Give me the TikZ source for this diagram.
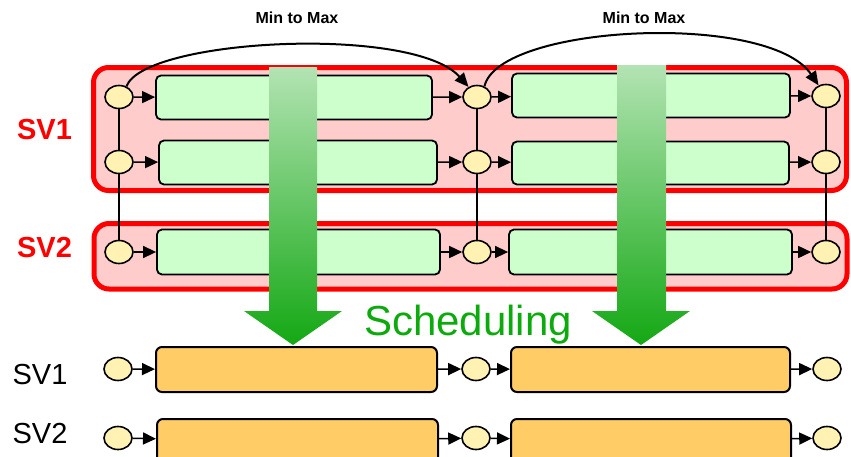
\documentclass[tikz,border=0pt]{standalone}
\usepackage{fontspec}
\setmainfont{Liberation Sans}
\usetikzlibrary{shapes.geometric,arrows.meta}
\definecolor{circfill}{HTML}{FFF2B3}
\definecolor{greenbox}{HTML}{CCFFCC}
\definecolor{orangebox}{HTML}{FFCC66}
\definecolor{redfill}{HTML}{FFCCCC}
\definecolor{schedgreen}{HTML}{0DAA0D}
\definecolor{arrowtop}{HTML}{B3E3B3}
\definecolor{arrowbot}{HTML}{14A814}
\tikzset{
  circ/.style={ellipse,draw=black,line width=1.6pt,fill=circfill,minimum width=28pt,minimum height=23pt,inner sep=0pt},
  gbox/.style={rectangle,rounded corners=5pt,draw=black,line width=1.8pt,fill=greenbox,inner sep=0pt},
  obox/.style={rectangle,rounded corners=6pt,draw=black,line width=2pt,fill=orangebox,inner sep=0pt},
  redgroup/.style={draw=red,fill=redfill,line width=5pt,rounded corners=15pt},
  conn/.style={line width=1.5pt,-{Triangle[length=13pt,width=12pt]}},
  vline/.style={line width=1.3pt},
  curve/.style={line width=2pt,-{Triangle[length=14pt,width=12pt]}},
  bigarrow/.style={top color=arrowtop,bottom color=arrowbot},
  lbl/.style={anchor=base,inner sep=0pt,font=\fontsize{29}{29}\selectfont}
}
\begin{document}
\begin{tikzpicture}[x=1pt,y=-1pt]
\useasboundingbox (0,0) rectangle (851,456);
% group boxes
\draw[redgroup] (93.5,67.5) rectangle (846.5,190.5);
\draw[redgroup] (94,223.5) rectangle (847,289);
% labels
\node[lbl,text=red,font=\fontsize{29}{29}\selectfont\bfseries] (lsv1) at (44.5,139) {SV1};
\node[lbl,text=red,font=\fontsize{29}{29}\selectfont\bfseries] (lsv2) at (44.5,257) {SV2};
\node[lbl] (bsv1) at (40,384) {SV1};
\node[lbl] (bsv2) at (40,443) {SV2};
\node[anchor=base,inner sep=0pt,font=\fontsize{16}{16}\selectfont\bfseries] (mm1) at (297,23) {Min to Max};
\node[anchor=base,inner sep=0pt,font=\fontsize{16}{16}\selectfont\bfseries] (mm2) at (644,23) {Min to Max};
\node[anchor=base,inner sep=0pt,text=schedgreen,font=\fontsize{42}{42}\selectfont] (sched) at (468,335) {Scheduling};
% circles upper
\node[circ] (a1) at (119,97) {};
\node[circ] (a2) at (477,97) {};
\node[circ] (a3) at (826,96) {};
\node[circ] (b1) at (119,162) {};
\node[circ] (b2) at (477,162) {};
\node[circ] (b3) at (826,162) {};
\node[circ] (s1) at (119,252) {};
\node[circ] (s2) at (477,252) {};
\node[circ] (s3) at (826,252) {};
% green boxes
\node[gbox,minimum width=276pt,minimum height=44pt] (ga1) at (294,97.5) {};
\node[gbox,minimum width=278pt,minimum height=44pt] (gb1) at (298,162.5) {};
\node[gbox,minimum width=283pt,minimum height=45pt] (gs1) at (298.5,252) {};
\node[gbox,minimum width=278pt,minimum height=44pt] (ga2) at (651,95.5) {};
\node[gbox,minimum width=277pt,minimum height=43pt] (gb2) at (650.5,163) {};
\node[gbox,minimum width=283pt,minimum height=45pt] (gs2) at (650.5,252) {};
% vertical lines
\draw[vline] (a1) -- (b1);
\draw[vline] (b1) -- (s1);
\draw[vline] (a2) -- (b2);
\draw[vline] (b2) -- (s2);
\draw[vline] (a3) -- (b3);
\draw[vline] (b3) -- (s3);
% horizontal connectors upper
\draw[conn] (a1) -- (ga1);
\draw[conn] (ga1) -- (a2);
\draw[conn] (a2) -- (ga2);
\draw[conn] (ga2) -- (a3);
\draw[conn] (b1) -- (gb1);
\draw[conn] (gb1) -- (b2);
\draw[conn] (b2) -- (gb2);
\draw[conn] (gb2) -- (b3);
\draw[conn] (s1) -- (gs1);
\draw[conn] (gs1) -- (s2);
\draw[conn] (s2) -- (gs2);
\draw[conn] (gs2) -- (s3);
% curves
\draw[curve] (a1.55) .. controls +(18,-48) and +(-55,-62) .. (a2.130);
\draw[curve] (a2.55) .. controls +(14,-62) and +(-50,-74) .. (a3.125);
% lower rows
\node[circ] (p1) at (118,369) {};
\node[circ] (p2) at (476,369) {};
\node[circ] (p3) at (827,369) {};
\node[circ] (q1) at (118,438) {};
\node[circ] (q2) at (476,438) {};
\node[circ] (q3) at (827,438) {};
\node[obox,minimum width=281pt,minimum height=45pt] (op1) at (296.5,369.5) {};
\node[obox,minimum width=279pt,minimum height=45pt] (op2) at (650.5,369.5) {};
\node[obox,minimum width=281pt,minimum height=45pt] (oq1) at (297.5,441.5) {};
\node[obox,minimum width=280pt,minimum height=45pt] (oq2) at (651,441.5) {};
\draw[conn] (p1) -- (op1);
\draw[conn] (op1) -- (p2);
\draw[conn] (p2) -- (op2);
\draw[conn] (op2) -- (p3);
\draw[conn] (q1) -- (oq1);
\draw[conn] (oq1) -- (q2);
\draw[conn] (q2) -- (oq2);
\draw[conn] (oq2) -- (q3);
% big scheduling arrows
\shade[bigarrow] (269,67) -- (317,67) -- (317,311) -- (342,311) -- (293,345) -- (244,311) -- (269,311) -- cycle;
\shade[bigarrow] (617,65) -- (666,65) -- (666,311) -- (690,311) -- (641,345) -- (592,311) -- (617,311) -- cycle;
\end{tikzpicture}
\end{document}
